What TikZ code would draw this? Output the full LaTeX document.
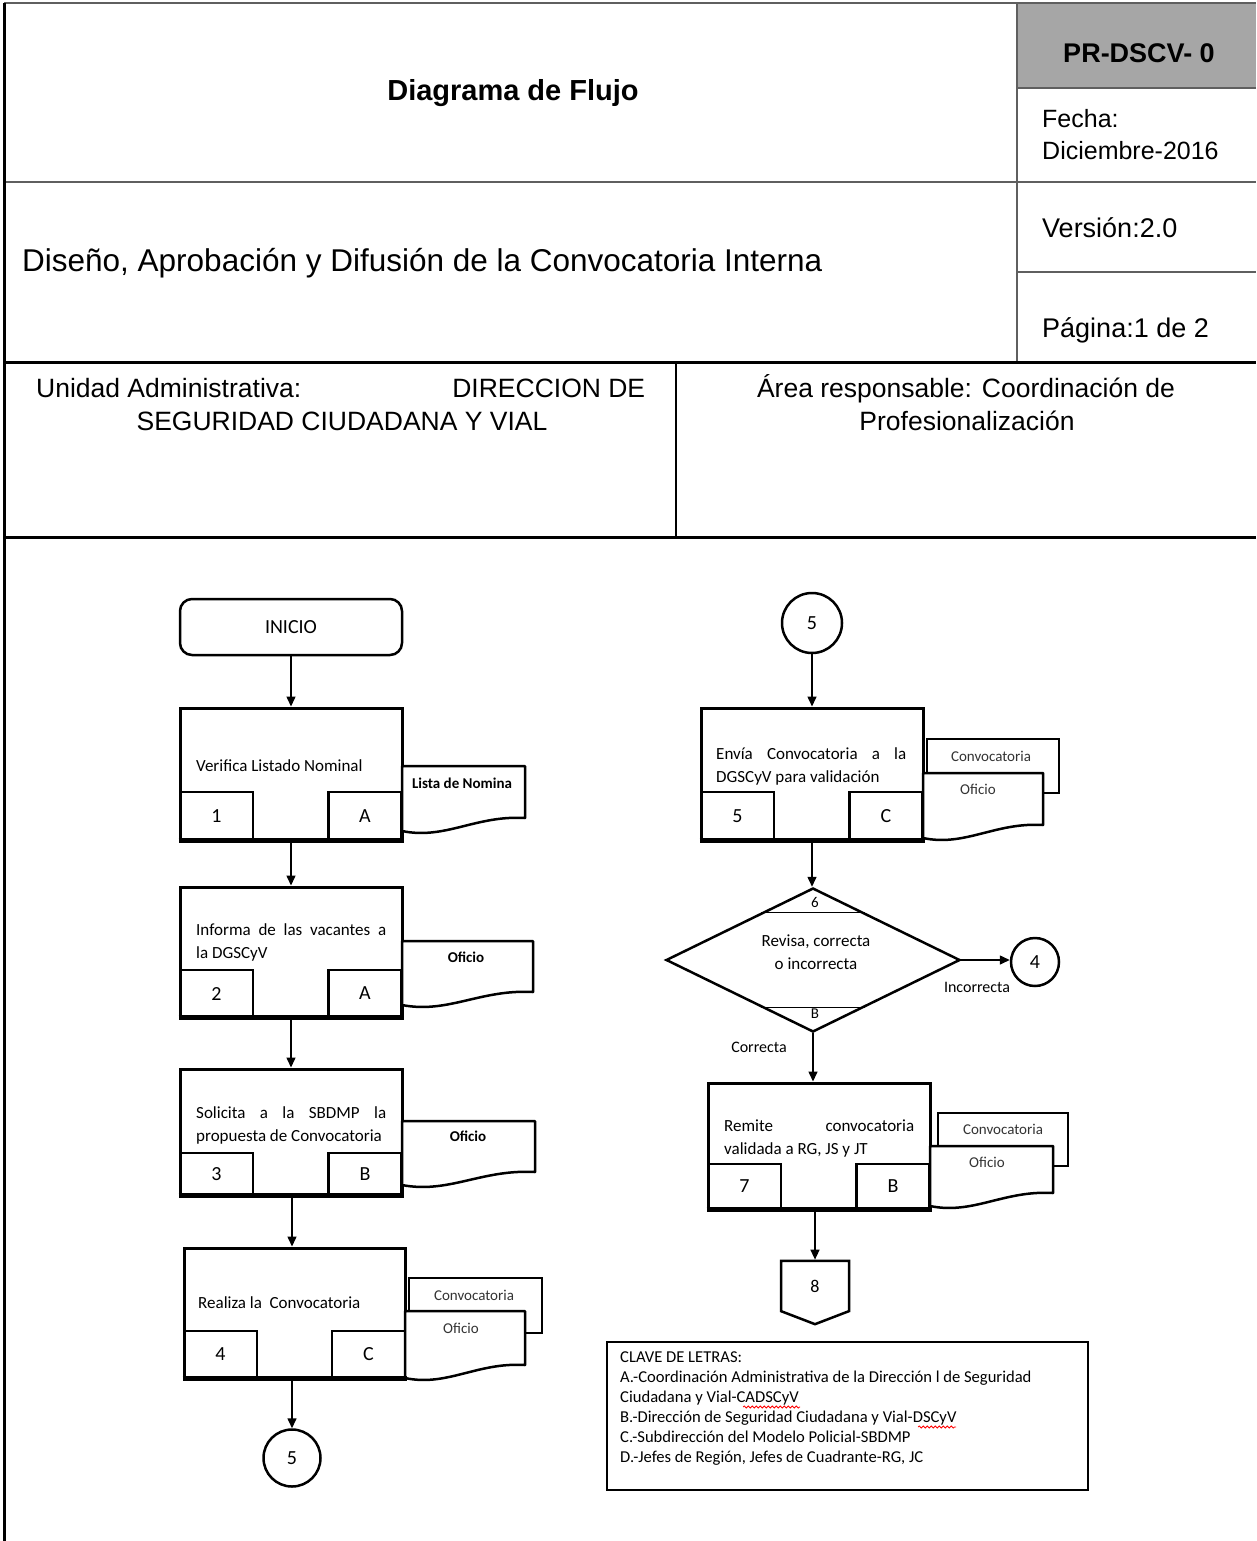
\documentclass[tikz,border=0pt]{standalone}
\usepackage{fontspec}
\setmainfont{Liberation Sans}
\newfontfamily\calibri{Carlito}
\usetikzlibrary{positioning,shapes.geometric,shapes.symbols,arrows.meta,calc,decorations.pathmorphing}
\definecolor{lineaGris}{RGB}{95,95,95}
\definecolor{celdaGris}{RGB}{166,166,166}

\tikzset{
  hojalinea/.style={draw, fill=white, line width=2.5pt, line join=round}
}
% contorno de documento (borde inferior ondulado)
\newcommand{\docout}[1]{%
  \draw[hojalinea] (#1.south west) -- (#1.north west) -- (#1.north east) -- ([yshift=13pt]#1.south east)
    .. controls ($(#1.south west)!0.6!(#1.south east)+(0pt,16pt)$) and ($(#1.south west)!0.35!(#1.south east)+(0pt,-9pt)$) .. (#1.south west) -- cycle;}

\begin{document}
\begin{tikzpicture}[x=1pt, y=-1pt,
    marcogris/.style={draw=lineaGris, line width=2pt},
    marconegro/.style={draw=black, line width=3pt},
    celda/.style={inner sep=0pt, font=\fontsize{27}{32}\selectfont},
    inicio/.style={draw, rounded corners=12pt, line width=2.5pt, minimum width=222pt, minimum height=56pt, font=\calibri\fontsize{20}{24}\selectfont},
    proceso/.style={draw, line width=3pt, minimum width=222pt, inner sep=0pt},
    etiqueta/.style={draw, line width=2.5pt, minimum width=73pt, inner sep=0pt, font=\calibri\fontsize{20}{24}\selectfont},
    texto/.style={inner sep=0pt, anchor=north west, text width=190pt, align=justify, font=\calibri\fontsize{17}{23}\selectfont,
      execute at begin node={\hyphenpenalty=10000\exhyphenpenalty=10000\hbadness=10000}},
    hoja/.style={inner sep=0pt, outer sep=0pt},
    hojafondo/.style={draw, fill=white, line width=2.5pt, inner sep=0pt},
    hojatexto/.style={inner sep=0pt, font=\calibri\fontsize{15}{18}\selectfont, text=black!80},
    conector/.style={draw, circle, line width=2.5pt, inner sep=0pt, font=\calibri\fontsize{20}{24}\selectfont},
    decision/.style={draw, diamond, line width=2.5pt, minimum width=294pt, minimum height=144pt, inner sep=0pt},
    salto/.style={draw, signal, signal to=south, signal pointer angle=138, line width=2.5pt, minimum width=68pt, minimum height=52pt, inner sep=0pt, font=\calibri\fontsize{18}{22}\selectfont},
    flecha/.style={line width=1.5pt, -{Triangle[length=10pt,width=9pt]}},
    rotulo/.style={inner sep=0pt, font=\calibri\fontsize{16}{20}\selectfont}
]
\useasboundingbox (0,0) rectangle (1256,1541);

% ---- encabezado
\fill[celdaGris] (1017,3) rectangle (1256,88);
\draw[marcogris] (4,3) -- (1256,3);
\draw[marcogris] (1017,3) -- (1017,362);
\draw[marcogris] (1017,88) -- (1256,88);
\draw[marcogris] (4,182) -- (1256,182);
\draw[marcogris] (1017,272) -- (1256,272);
\draw[marconegro] (4,362) -- (1256,362);
\draw[draw=black, line width=1.5pt] (676,362) -- (676,537);
\draw[marconegro] (4,537) -- (1256,537);
\draw[marconegro] (4,3) -- (4,1541);

\node[celda, anchor=base, font=\bfseries\fontsize{29}{34}\selectfont] (titulo) at (513,101) {Diagrama de Flujo};
\node[celda, anchor=base, font=\bfseries\fontsize{27}{32}\selectfont] (codigo) at (1139,63) {PR-DSCV- 0};
\node[celda, anchor=base west, font=\fontsize{25}{30}\selectfont] (fecha) at (1042,128) {Fecha:};
\node[celda, anchor=base west, font=\fontsize{25}{30}\selectfont] (fechav) at (1042,160) {Diciembre-2016};
\node[celda, anchor=base west] (version) at (1042,237) {Versión:2.0};
\node[celda, anchor=base west] (pagina) at (1042,337) {Página:1 de 2};
\node[celda, anchor=base west, font=\fontsize{31.5}{36}\selectfont] (nombre) at (22,271) {Diseño, Aprobación y Difusión de la Convocatoria Interna};

\node[celda, anchor=base west, font=\fontsize{26.5}{32}\selectfont] (unidad) at (36,397) {\makebox[609pt]{Unidad Administrativa:\hfill DIRECCION DE}};
\node[celda, anchor=base, font=\fontsize{26.5}{32}\selectfont] (unidadb) at (342,430) {SEGURIDAD CIUDADANA Y VIAL};
\node[celda, anchor=base, font=\fontsize{26.5}{32}\selectfont] (area) at (966,397) {Área responsable: Coordinación de};
\node[celda, anchor=base, font=\fontsize{26.5}{32}\selectfont] (areab) at (967,430) {Profesionalización};

% ---- columna izquierda
\node[inicio] (ini) at (291,627) {INICIO};

\node[proceso, minimum height=132pt] (p1) at (291,774) {};
\node[etiqueta, minimum height=48pt] (n1) at (216.5,816) {1};
\node[etiqueta, minimum height=48pt] (a1) at (365,816) {A};
\node[texto] (t1) at (196,759) {Verifica Listado Nominal};
\node[hoja, minimum width=123pt, minimum height=65pt] (d1) at (463.5,798.5) {};
\docout{d1}
\node[hojatexto, font=\calibri\bfseries\fontsize{15}{18}\selectfont, text=black] (d1t) at (462,783) {Lista de Nomina};

\node[proceso, minimum height=130pt] (p2) at (291,952) {};
\node[etiqueta, minimum height=47pt] (n2) at (216.5,993.5) {2};
\node[etiqueta, minimum height=47pt] (a2) at (365,993.5) {A};
\node[texto] (t2) at (196,923) {Informa de las vacantes a\linebreak la DGSCyV};
\node[hoja, minimum width=131pt, minimum height=64pt] (d2) at (467.5,973) {};
\docout{d2}
\node[hojatexto, font=\calibri\bfseries\fontsize{15}{18}\selectfont, text=black] (d2t) at (466,957) {Oficio};

\node[proceso, minimum height=126pt] (p3) at (291,1132) {};
\node[etiqueta, minimum height=42pt] (n3) at (216.5,1174) {3};
\node[etiqueta, minimum height=42pt] (b3) at (365,1174) {B};
\node[texto] (t3) at (196,1106) {Solicita a la SBDMP la\linebreak propuesta de Convocatoria};
\node[hoja, minimum width=133pt, minimum height=64pt] (d3) at (468.5,1153) {};
\docout{d3}
\node[hojatexto, font=\calibri\bfseries\fontsize{15}{18}\selectfont, text=black] (d3t) at (468,1136) {Oficio};

\node[proceso, minimum width=221pt, minimum height=130pt] (p4) at (294.5,1313) {};
\node[etiqueta, minimum height=47pt] (n4) at (220.5,1354.5) {4};
\node[etiqueta, minimum height=47pt] (c4) at (368.5,1354.5) {C};
\node[texto] (t4) at (198,1296) {Realiza la\ \ Convocatoria};
\node[hojafondo, minimum width=133pt, minimum height=55pt] (d4b) at (475.5,1305.5) {};
\node[hoja, minimum width=120pt, minimum height=67pt] (d4) at (465,1344.5) {};
\docout{d4}
\node[hojatexto] (d4bt) at (474,1295) {Convocatoria};
\node[hojatexto] (d4t) at (461,1328) {Oficio};

\node[conector, minimum size=57pt] (k5a) at (292,1458) {5};

% ---- columna derecha
\node[conector, minimum size=60pt] (k5b) at (812,623) {5};

\node[proceso, minimum height=132pt] (p5) at (812,774) {};
\node[etiqueta, minimum height=48pt] (n5) at (737.5,816) {5};
\node[etiqueta, minimum height=48pt] (c5) at (886,816) {C};
\node[texto] (t5) at (716,747) {Envía Convocatoria a la\linebreak DGSCyV para validación};
\node[hojafondo, minimum width=132pt, minimum height=54pt] (d5b) at (993,766) {};
\node[hoja, minimum width=120pt, minimum height=65pt] (d5) at (983,805.5) {};
\docout{d5}
\node[hojatexto] (d5bt) at (991,756) {Convocatoria};
\node[hojatexto] (d5t) at (978,789) {Oficio};

\node[decision] (dec) at (813,960) {};
\draw[line width=1.5pt] ($(dec.north)!0.35!(dec.west)$) -- ($(dec.north)!0.35!(dec.east)$);
\draw[line width=1.5pt] ($(dec.south)!0.35!(dec.west)$) -- ($(dec.south)!0.35!(dec.east)$);
\node[rotulo, font=\calibri\fontsize{15}{18}\selectfont] (seis) at (815,902) {6};
\node[rotulo, font=\calibri\fontsize{15}{18}\selectfont] (bdec) at (815,1014) {B};
\node[rotulo, font=\calibri\fontsize{17}{23}\selectfont, align=center, anchor=north] (tdec) at (816,935) {Revisa, correcta\\o incorrecta};

\node[conector, minimum size=48pt] (k4) at (1035,962) {4};
\node[rotulo] (incorr) at (977,987) {Incorrecta};
\node[rotulo] (corr) at (759,1047) {Correcta};

\node[proceso, minimum height=126pt] (p7) at (819,1146) {};
\node[etiqueta, minimum height=45pt] (n7) at (744.5,1186.5) {7};
\node[etiqueta, minimum height=45pt] (b7) at (893,1186.5) {B};
\node[texto] (t7) at (724,1120) {Remite convocatoria\linebreak validada a RG, JS y JT};
\node[hojafondo, minimum width=130pt, minimum height=53pt] (d7b) at (1003,1139.5) {};
\node[hoja, minimum width=123pt, minimum height=60pt] (d7) at (991.5,1176) {};
\docout{d7}
\node[hojatexto] (d7bt) at (1003,1129) {Convocatoria};
\node[hojatexto] (d7t) at (987,1162) {Oficio};

\node[salto] (ocho) at (815,1286) {8};

% borde inferior reforzado de los procesos
\foreach \p in {p1,p2,p3,p4,p5,p7}
  \draw[line width=5pt] ([yshift=1pt]\p.south west) -- ([yshift=1pt]\p.south east);

% ---- clave de letras
\node[draw, line width=1.5pt, minimum width=481pt, minimum height=148pt, inner sep=0pt] (leyenda) at (847.5,1416) {};
\node[inner sep=0pt, anchor=north west, align=left, font=\calibri\fontsize{16.6}{20}\selectfont] (leyendat) at (620,1352) {CLAVE DE LETRAS:\\
A.-Coordinación Administrativa de la Dirección l de Seguridad\\
Ciudadana y Vial-CADSCyV\\
B.-Dirección de Seguridad Ciudadana y Vial-DSCyV\\
C.-Subdirección del Modelo Policial-SBDMP\\
D.-Jefes de Región, Jefes de Cuadrante-RG, JC};
\draw[red, line width=0.8pt, decorate, decoration={snake, amplitude=1pt, segment length=4pt}] (743,1407) -- (800,1407);
\draw[red, line width=0.8pt, decorate, decoration={snake, amplitude=1pt, segment length=4pt}] (918,1427) -- (956,1427);

% ---- flechas
\draw[flecha] (ini) -- (p1);
\draw[flecha] (p1) -- (p2);
\draw[flecha] (p2) -- (p3);
\draw[flecha] (p3.south -| k5a) -- (k5a |- p4.north);
\draw[flecha] (k5a |- p4.south) -- (k5a);
\draw[flecha] (k5b) -- (p5);
\draw[flecha] (p5.south) -- (p5.south |- dec.north);
\draw[flecha] (dec.east) -- (dec.east -| k4.west);
\draw[flecha] (dec.south) -- (dec.south |- p7.north);
\draw[flecha] (ocho.north |- p7.south) -- (ocho.north);
\end{tikzpicture}
\end{document}
